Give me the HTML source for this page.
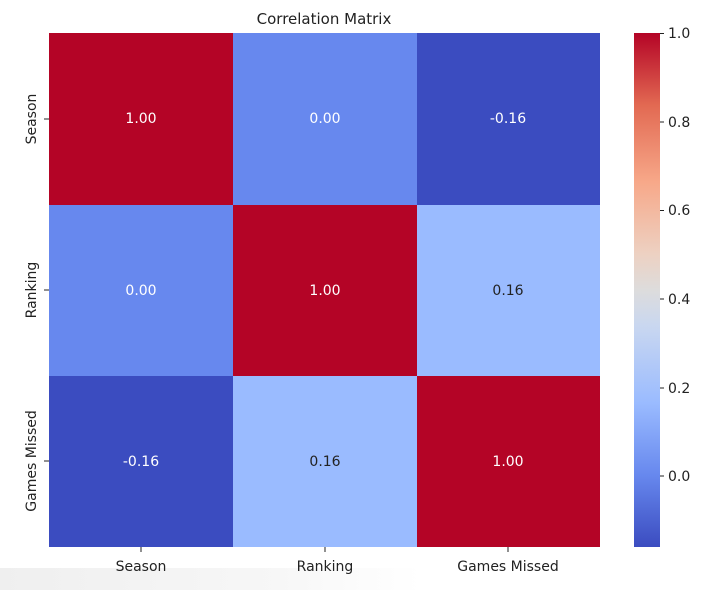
<!DOCTYPE html>
<html><head><style>
body{margin:0;width:701px;height:590px;background:#fff;overflow:hidden;position:relative;font-family:"DejaVu Sans","Liberation Sans",sans-serif;}
</style></head><body>
<div style="position:absolute;left:0;top:568px;width:701px;height:22px;background:linear-gradient(90deg,#efefef 0%,#f7f7f7 40%,#fff 60%)"></div>
<svg width="701" height="590" style="position:absolute;left:0;top:0" font-family="DejaVu Sans, Liberation Sans, sans-serif">
<defs><linearGradient id="cb" x1="0" y1="1" x2="0" y2="0">
<stop offset="0" stop-color="#3b4cc0"/>
<stop offset="0.14" stop-color="#6788ee"/>
<stop offset="0.28" stop-color="#9abbff"/>
<stop offset="0.43" stop-color="#c9d7f0"/>
<stop offset="0.5" stop-color="#dddcdc"/>
<stop offset="0.57" stop-color="#edd1c2"/>
<stop offset="0.71" stop-color="#f7a889"/>
<stop offset="0.86" stop-color="#e26952"/>
<stop offset="1" stop-color="#b40426"/>
</linearGradient></defs>
<text x="324" y="24" font-size="15" text-anchor="middle" fill="#222">Correlation Matrix</text>
<g>
<rect x="49" y="33" width="184" height="172" fill="#b40426"/>
<rect x="233" y="33" width="184" height="172" fill="#6788ee"/>
<rect x="417" y="33" width="183" height="172" fill="#3b4cc0"/>
<rect x="49" y="205" width="184" height="171" fill="#6788ee"/>
<rect x="233" y="205" width="184" height="171" fill="#b40426"/>
<rect x="417" y="205" width="183" height="171" fill="#9abbff"/>
<rect x="49" y="376" width="184" height="171" fill="#3b4cc0"/>
<rect x="233" y="376" width="184" height="171" fill="#9abbff"/>
<rect x="417" y="376" width="183" height="171" fill="#b40426"/>
</g>
<g font-size="14" text-anchor="middle">
<text x="141" y="123" fill="#fff">1.00</text>
<text x="325" y="123" fill="#fff">0.00</text>
<text x="508" y="123" fill="#fff">-0.16</text>
<text x="141" y="295" fill="#fff">0.00</text>
<text x="325" y="295" fill="#fff">1.00</text>
<text x="508" y="295" fill="#222">0.16</text>
<text x="141" y="466" fill="#fff">-0.16</text>
<text x="325" y="466" fill="#222">0.16</text>
<text x="508" y="466" fill="#fff">1.00</text>
</g>
<g stroke="#222" stroke-width="1">
<line x1="141" y1="547" x2="141" y2="552"/><line x1="325" y1="547" x2="325" y2="552"/><line x1="508" y1="547" x2="508" y2="552"/>
<line x1="44" y1="119" x2="49" y2="119"/><line x1="44" y1="290" x2="49" y2="290"/><line x1="44" y1="461" x2="49" y2="461"/>
</g>
<g font-size="14" fill="#222" text-anchor="middle">
<text x="141" y="571">Season</text><text x="325" y="571">Ranking</text><text x="508" y="571">Games Missed</text>
<text transform="translate(36,119) rotate(-90)">Season</text>
<text transform="translate(36,290) rotate(-90)">Ranking</text>
<text transform="translate(36,461) rotate(-90)">Games Missed</text>
</g>
<rect x="634" y="33" width="26" height="514" fill="url(#cb)"/>
<g stroke="#222"><line x1="660" y1="33.5" x2="664" y2="33.5"/><line x1="660" y1="122" x2="664" y2="122"/><line x1="660" y1="210.5" x2="664" y2="210.5"/><line x1="660" y1="299" x2="664" y2="299"/><line x1="660" y1="388" x2="664" y2="388"/><line x1="660" y1="476" x2="664" y2="476"/></g>
<g font-size="14" fill="#222">
<text x="668" y="38">1.0</text><text x="668" y="127">0.8</text><text x="668" y="215">0.6</text><text x="668" y="304">0.4</text><text x="668" y="393">0.2</text><text x="668" y="481">0.0</text>
</g>
</svg>
</body></html>
